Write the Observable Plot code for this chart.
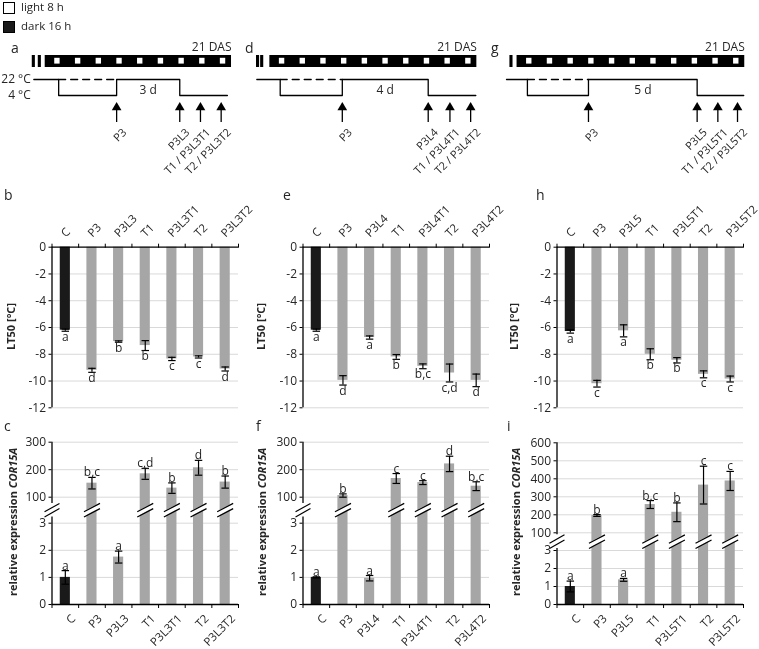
<!DOCTYPE html>
<html><head><meta charset="utf-8">
<script src="https://cdn.jsdelivr.net/npm/d3@7"></script>
<script src="https://cdn.jsdelivr.net/npm/@observablehq/plot@0.6"></script>
<style>
body{margin:0;background:#fff;}
#fig{position:relative;width:759px;height:649px;overflow:hidden;font-family:"Open Sans",sans-serif;color:#262626;background:#fff;}
#fig > *{position:absolute;}
#fig svg{will-change:transform;}
.lab{font-size:14px;line-height:1;}
.ytitle{font-size:11px;font-weight:bold;white-space:nowrap;transform-origin:0 0;line-height:1;}
</style></head><body><div id="fig"></div>
<script>
// ---------- data ----------
const catsA = ["C","P3","P3L3","T1","P3L3T1","T2","P3L3T2"];
const catsD = ["C","P3","P3L4","T1","P3L4T1","T2","P3L4T2"];
const catsG = ["C","P3","P3L5","T1","P3L5T1","T2","P3L5T2"];

const lt50A = [-6.2, -9.2, -7.05, -7.35, -8.35, -8.2, -9.1];
const lt50ErrA = [0.08, 0.15, 0.05, 0.37, 0.12, 0.08, 0.15];
const lt50SigA = ["a","d","b","b","c","c","d"];
const lt50D = [-6.2, -9.95, -6.75, -8.2, -8.9, -9.4, -9.95];
const lt50ErrD = [0.08, 0.35, 0.12, 0.18, 0.18, 0.67, 0.47];
const lt50SigD = ["a","d","a","b","b,c","c,d","d"];
const lt50G = [-6.3, -10.2, -6.25, -8.0, -8.45, -9.5, -9.85];
const lt50ErrG = [0.12, 0.25, 0.45, 0.41, 0.2, 0.26, 0.22];
const lt50SigG = ["a","c","a","b","b","c","c"];
const lt50Ticks = [0, -2, -4, -6, -8, -10, -12];

const corA = [1.0, 151, 1.75, 185, 133, 207, 155];
const corErrA = [0.25, 21, 0.22, 20, 19, 27, 22];
const corSigA = ["a","b,c","a","c,d","b","d","b"];
const corD = [1.0, 106, 0.97, 168, 153, 221, 140];
const corErrD = [0.02, 6, 0.1, 18, 7, 28, 16];
const corSigD = ["a","b","a","c","c","d","b,c"];
const corG = [1.0, 196, 1.37, 257, 214, 365, 388];
const corErrG = [0.3, 5, 0.08, 22, 52, 105, 53];
const corSigG = ["a","b","a","b,c","b","c","c"];
const corTicksAD = [0, 1, 2, 3, 100, 200, 300];
const corTicksG = [0, 1, 2, 3, 100, 200, 300, 400, 500, 600];

// schematic (days after sowing)
const schemBarStart = [12, 11, 10];
const schemEnd = 21;
const schemBreakBars = [[11.45, 11.74], [10.43, 10.63], [9.73]];
const schemLineStart = [11.45, 10.37, 9.49];
const schemColdStart = [12.65, 11.5, 10.5];
const schemPrimeEnd = [15.45, 14.5, 13.45];
const schemWarmEnd = [18.5, 18.65, 18.7];
const schemT1 = [19.5, 19.7, 19.7];
const schemT2 = [20.5, 20.7, 20.65];
const schemLineEnd = [20.8, 20.95, 20.95];
const schemDurLabel = ["3 d", "4 d", "5 d"];
const schemArrowLabels = [
  ["P3","P3L3","T1 / P3L3T1","T2 / P3L3T2"],
  ["P3","P3L4","T1 / P3L4T1","T2 / P3L4T2"],
  ["P3","P3L5","T1 / P3L5T1","T2 / P3L5T2"]];
const tempLevels = ["22 °C", "4 °C"];
const legendLabels = ["light 8 h", "dark 16 h"];
const panelLetters = ["a","b","c","d","e","f","g","h","i"];

// ---------- layout ----------
const FONT = "'Open Sans', sans-serif";
const INK = "#262626";
const GRAY = "#a6a6a6", DARK = "#1a1a1a", GRID = "#d9d9d9";
const fig = document.getElementById("fig");
function place(el, left, top){ el.style.left = left + "px"; el.style.top = top + "px"; fig.appendChild(el); return el; }
const style = {fontFamily: FONT, fontSize: "11px", color: INK, background: "transparent", overflow: "visible"};

const catsList = [catsA, catsD, catsG];
const lt50List = [lt50A, lt50D, lt50G], lt50ErrList = [lt50ErrA, lt50ErrD, lt50ErrG], lt50SigList = [lt50SigA, lt50SigD, lt50SigG];
const corList = [corA, corD, corG], corErrList = [corErrA, corErrD, corErrG], corSigList = [corSigA, corSigD, corSigG];
const colX = [0, 253, 506];
const chartX = [1.2, 251.8, 505.5];
const PX_PER_DAY = 20.7;
const dayAt0 = [9.84, 10.21, 9.49];

// ---------- schematics ----------
function schematic(k){
  const W = 253, d0 = dayAt0[k];
  const days = d3.range(schemBarStart[k], schemEnd);
  const path = [
    {d: schemLineStart[k], t: 22}, {d: schemColdStart[k], t: 22}, {d: schemColdStart[k], t: 4},
    {d: schemPrimeEnd[k], t: 4}, {d: schemPrimeEnd[k], t: 22}, {d: schemWarmEnd[k], t: 22},
    {d: schemWarmEnd[k], t: 4}, {d: schemLineEnd[k], t: 4}];
  const rowY = t => t === 22 ? 79 : 95;
  const arrows = [schemPrimeEnd[k], schemWarmEnd[k], schemT1[k], schemT2[k]];
  const arrowRows = arrows.map((d, i) => ({d, label: schemArrowLabels[k][i]}));
  const marks = [
    Plot.rect([schemBarStart[k]], {x1: d => d, x2: schemEnd, y1: 55, y2: 67, fill: "#000"}),
    Plot.rect(schemBreakBars[k], {x1: d => d - 0.075, x2: d => d + 0.075, y1: 55, y2: 67, fill: "#000"}),
    Plot.rect(days, {x1: d => d + 0.46, x2: d => d + 0.72, y1: 57.8, y2: 63.6, fill: "#fff"}),
    Plot.text(["21 DAS"], {x: schemEnd, y: 47, text: d => d, textAnchor: "end", fontSize: 12, fill: INK}),
    Plot.line(path, {x: "d", y: d => rowY(d.t), stroke: "#000", strokeWidth: 1.3}),
    Plot.line([schemColdStart[k], schemPrimeEnd[k]], {x: d => d, y: 79, stroke: "#000", strokeWidth: 1.3, strokeDasharray: "7,5"}),
    Plot.text([schemDurLabel[k]], {x: (schemPrimeEnd[k] + schemWarmEnd[k]) / 2, y: 90, text: d => d, fontSize: 12, fill: INK}),
    Plot.ruleX(arrows, {x: d => d, y1: 122, y2: 108, stroke: "#000", strokeWidth: 1.3}),
    Plot.dot(arrows, {x: d => d, y: 107, symbol: "triangle", r: 3.6, fill: "#000", stroke: null}),
    Plot.text(arrowRows, {x: "d", y: 127, text: "label", rotate: -45, textAnchor: "end", lineAnchor: "top", dx: 5, fontSize: 11, fill: INK})
  ];
  if (k === 0) marks.push(Plot.text([22, 4], {x: schemLineStart[k], y: d => rowY(d), text: (d, i) => tempLevels[i], textAnchor: "end", dx: -3, fontSize: 12, fill: INK}));
  return Plot.plot({
    width: W, height: 132, margin: 0,
    x: {type: "linear", domain: [d0, d0 + W / PX_PER_DAY], range: [0, W], axis: null},
    y: {type: "linear", domain: [0, 132], range: [0, 132], axis: null},
    style, marks
  });
}

// ---------- LT50 ----------
function lt50Plot(k){
  const cats = catsList[k];
  const rows = cats.map((c, i) => ({i, c, v: lt50List[k][i], e: lt50ErrList[k][i], s: lt50SigList[k][i]}));
  const bounds = d3.range(cats.length + 1).map(i => i - 0.5);
  return Plot.plot({
    width: 253, height: 230, marginLeft: 50.5, marginRight: 16, marginTop: 56.7, marginBottom: 12.7,
    x: {type: "linear", domain: [-0.5, cats.length - 0.5], axis: null},
    y: {type: "linear", domain: [-12, 0], axis: null},
    color: {type: "identity"},
    style,
    marks: [
      Plot.gridY(lt50Ticks.filter(t => t < 0), {stroke: GRID, strokeOpacity: 1}),
      Plot.rectY(rows, {x1: d => d.i - 0.19, x2: d => d.i + 0.19, y1: 0, y2: "v", fill: d => d.i === 0 ? DARK : GRAY}),
      Plot.ruleX(rows, {x: "i", y1: d => d.v - d.e, y2: d => d.v + d.e, stroke: "#000", strokeWidth: 1.2}),
      Plot.link(rows, {x1: d => d.i - 0.14, x2: d => d.i + 0.14, y1: d => d.v - d.e, y2: d => d.v - d.e, stroke: "#000", strokeWidth: 1.2}),
      Plot.link(rows, {x1: d => d.i - 0.14, x2: d => d.i + 0.14, y1: d => d.v + d.e, y2: d => d.v + d.e, stroke: "#000", strokeWidth: 1.2}),
      Plot.text(rows, {x: "i", y: d => d.v - d.e, text: "s", lineAnchor: "top", dy: 1, fontSize: 12, fill: INK}),
      Plot.ruleY([0], {stroke: "#000", strokeWidth: 1.3}),
      Plot.ruleX([-0.5], {stroke: "#000", strokeWidth: 1.3}),
      Plot.axisY({ticks: lt50Ticks, tickSize: 3, tickPadding: 3, tickFormat: d => String(d), label: null, fontSize: 12, stroke: "#000", color: INK}),
      Plot.axisX({anchor: "top", ticks: bounds, tickSize: 4, tickFormat: () => "", label: null, stroke: "#000"}),
      Plot.text(rows, {x: "i", y: 0, text: "c", rotate: -45, textAnchor: "start", lineAnchor: "bottom", dx: 0.5, dy: -9.5, fontSize: 11.5, fill: INK})
    ]
  });
}

// ---------- COR15A ----------
function corPlot(k){
  const cats = catsList[k];
  const top = k === 2 ? 600 : 300;
  const domain = [0, 3, 100, top];
  const range = k === 2 ? [184, 130, 112.3, 22.3] : [184, 102.7, 76.7, 21.7];
  const ticks = k === 2 ? corTicksG : corTicksAD;
  const ys = d3.scaleLinear().domain(domain).range(range);
  const inv = p => ys.invert(p);
  const mid = (ys(3) + ys(100)) / 2;
  const rows = cats.map((c, i) => ({i, c, v: corList[k][i], e: corErrList[k][i], s: corSigList[k][i]}));
  const broken = rows.filter(d => d.v > 3).map(d => ({x: d.i, w: 0.3}));
  broken.push({x: -0.5, w: 0.28});
  const SEP = 2.6, RISE = 4.2;
  const lines = [], band = [];
  for (const b of broken) {
    for (const off of [-SEP, SEP]) lines.push({x1: b.x - b.w, x2: b.x + b.w, y1: inv(mid + off + RISE), y2: inv(mid + off - RISE)});
    for (const t of [-1, 1]) band.push({z: b.x, x: b.x + t * b.w, y1: inv(mid - SEP - t * RISE), y2: inv(mid + SEP - t * RISE)});
  }
  const bounds = d3.range(cats.length + 1).map(i => i - 0.5);
  return Plot.plot({
    width: 253, height: 229, marginLeft: 50.5, marginRight: 16, marginTop: range[3], marginBottom: 229 - range[0],
    x: {type: "linear", domain: [-0.5, cats.length - 0.5], axis: null},
    y: {type: "linear", domain, range, axis: null},
    color: {type: "identity"},
    style,
    marks: [
      Plot.gridY(ticks.filter(t => t > 0), {stroke: GRID, strokeOpacity: 1}),
      Plot.rectY(rows, {x1: d => d.i - 0.19, x2: d => d.i + 0.19, y1: 0, y2: "v", fill: d => d.i === 0 ? DARK : GRAY}),
      Plot.areaY(band, {x: "x", y1: "y1", y2: "y2", z: "z", fill: "#fff", curve: "linear"}),
      Plot.link(lines, {x1: "x1", x2: "x2", y1: "y1", y2: "y2", stroke: "#000", strokeWidth: 1.2}),
      Plot.ruleX(rows, {x: "i", y1: d => d.v - d.e, y2: d => d.v + d.e, stroke: "#000", strokeWidth: 1.2}),
      Plot.link(rows, {x1: d => d.i - 0.14, x2: d => d.i + 0.14, y1: d => d.v - d.e, y2: d => d.v - d.e, stroke: "#000", strokeWidth: 1.2}),
      Plot.link(rows, {x1: d => d.i - 0.14, x2: d => d.i + 0.14, y1: d => d.v + d.e, y2: d => d.v + d.e, stroke: "#000", strokeWidth: 1.2}),
      Plot.text(rows, {x: "i", y: d => d.v + d.e, text: "s", lineAnchor: "bottom", dy: -1, fontSize: 12, fill: INK}),
      Plot.ruleY([0], {stroke: "#000", strokeWidth: 1.3}),
      Plot.ruleX([-0.5], {y1: 0, y2: inv(mid + SEP + RISE), stroke: "#000", strokeWidth: 1.3}),
      Plot.ruleX([-0.5], {y1: inv(mid - SEP - RISE), y2: top, stroke: "#000", strokeWidth: 1.3}),
      Plot.axisY({ticks, tickSize: 3, tickPadding: 3, tickFormat: d => String(d), label: null, fontSize: 12, stroke: "#000", color: INK}),
      Plot.axisX({anchor: "bottom", ticks: bounds, tickSize: 4, tickFormat: () => "", label: null, stroke: "#000"}),
      Plot.text(rows, {x: "i", y: 0, text: "c", rotate: -45, textAnchor: "end", lineAnchor: "top", dx: 5, dy: 9, fontSize: 11.5, fill: INK})
    ]
  });
}

// ---------- assemble ----------
for (let k = 0; k < 3; k++) {
  place(schematic(k), colX[k], 0);
  place(lt50Plot(k), chartX[k], 190);
  place(corPlot(k), chartX[k], 420);
}

// legend
legendLabels.forEach((t, i) => {
  const sw = document.createElement("div");
  sw.style.cssText = `width:10px;height:10px;border:1px solid #000;background:${i ? "#1a1a1a" : "#fff"};`;
  place(sw, 2.5, 2 + i * 18.5);
  const tx = document.createElement("div");
  tx.textContent = t; tx.style.cssText = "font-size:11.5px;line-height:14px;white-space:nowrap;";
  place(tx, 21, 0 + i * 18.5);
});

// panel letters
const letterPos = [[11, 41], [4, 188], [4, 419], [245, 41], [283, 188], [256, 419], [491, 41], [536, 188], [507, 419]];
panelLetters.forEach((l, i) => {
  const el = document.createElement("div"); el.className = "lab"; el.textContent = l;
  place(el, letterPos[i][0], letterPos[i][1]);
});

// y-axis titles
function ytitle(html, cx, cy){
  const el = document.createElement("div"); el.className = "ytitle"; el.innerHTML = html;
  fig.appendChild(el);
  const w = el.offsetWidth, h = el.offsetHeight;
  el.style.left = (cx - h / 2) + "px";
  el.style.top = (cy + w / 2) + "px";
  el.style.transform = "rotate(-90deg)";
}
const ytxLT = [10, 260, 513];
const ytxCOR = [12, 261, 515];
for (let k = 0; k < 3; k++) {
  ytitle("LT50 [°C]", ytxLT[k], 326);
  ytitle("relative expression <i>COR15A</i>", ytxCOR[k], 522);
}
</script></body></html>
